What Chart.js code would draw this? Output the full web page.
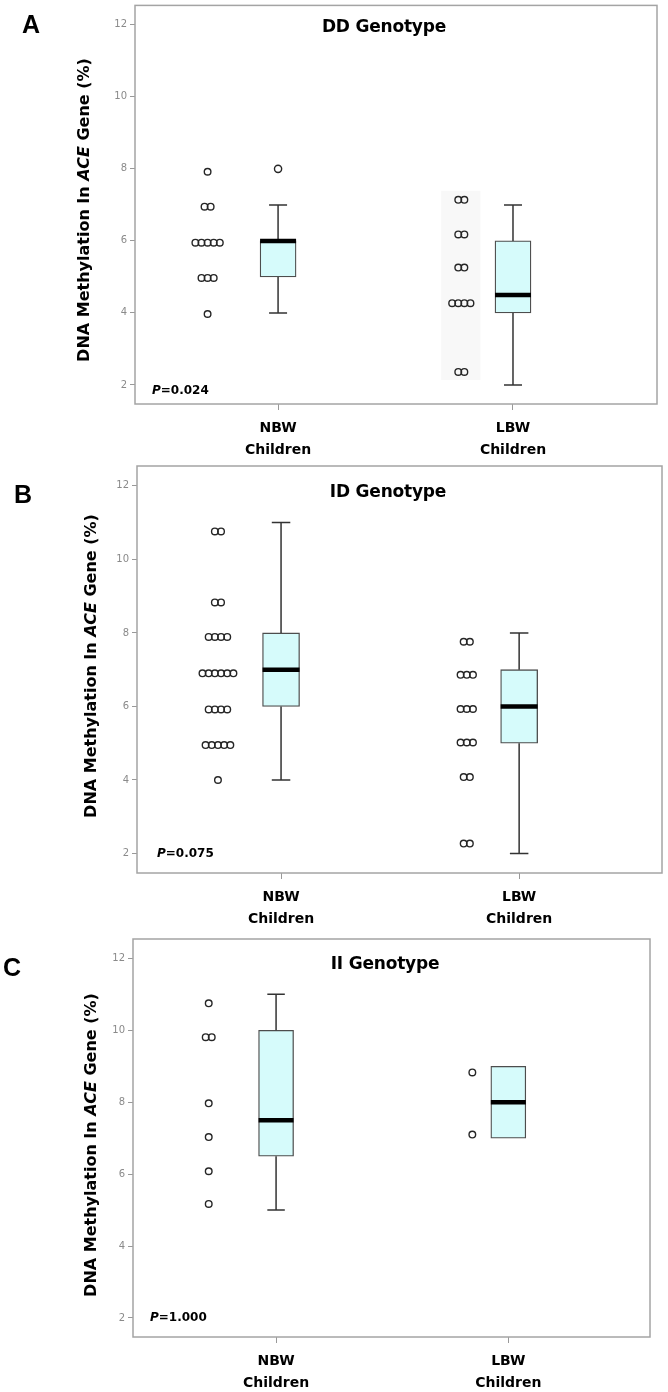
<!DOCTYPE html>
<html><head><meta charset="utf-8">
<script src="https://cdn.jsdelivr.net/npm/chart.js@4/dist/chart.umd.min.js"></script>
<style>
html,body{margin:0;padding:0;background:#fff;}
body{width:668px;height:1392px;position:relative;overflow:hidden;font-family:"DejaVu Sans",sans-serif;}
canvas{position:absolute;left:0;display:block;}
.lbl{position:absolute;font-weight:bold;color:#000;white-space:nowrap;line-height:1;}
.letter{font-family:"Liberation Sans",Arial,sans-serif;font-size:25px;}
.ytitle{font-size:16px;transform:translate(-50%,-50%) rotate(-90deg);}
.gt{font-size:17px;transform:translate(-50%,-50%);letter-spacing:-0.2px;}
.pv{font-size:12px;transform:translateY(-50%);}
</style></head><body>
<canvas id="cA" width="668" height="470" style="top:0px"></canvas>
<canvas id="cB" width="668" height="475" style="top:460px"></canvas>
<canvas id="cC" width="668" height="472" style="top:920px"></canvas>

<div class="lbl letter" style="left:22px;top:12px">A</div>
<div class="lbl letter" style="left:14px;top:482px">B</div>
<div class="lbl letter" style="left:3px;top:955px">C</div>

<div class="lbl ytitle" style="left:84px;top:210px">DNA Methylation In <i>ACE</i> Gene (%)</div>
<div class="lbl ytitle" style="left:91px;top:666px">DNA Methylation In <i>ACE</i> Gene (%)</div>
<div class="lbl ytitle" style="left:91px;top:1145px">DNA Methylation In <i>ACE</i> Gene (%)</div>

<div class="lbl gt" style="left:384px;top:26px">DD Genotype</div>
<div class="lbl gt" style="left:388px;top:491px">ID Genotype</div>
<div class="lbl gt" style="left:385px;top:963px">II Genotype</div>

<div class="lbl pv" style="left:152px;top:390px"><i>P</i>=0.024</div>
<div class="lbl pv" style="left:157px;top:853px"><i>P</i>=0.075</div>
<div class="lbl pv" style="left:150px;top:1317px"><i>P</i>=1.000</div>

<script>
// ---------- data ----------
const categories = [['NBW', 'Children'], ['LBW', 'Children']];
const yTicks = [2, 4, 6, 8, 10, 12];

// Panel A: DD genotype (NBW, LBW)
const ddMin = [4, 2];
const ddQ1 = [5, 4];
const ddMedian = [6, 4.5];
const ddQ3 = [6, 6];
const ddMax = [7, 7];
const ddOutliersNBW = [8];
const ddOutliersLBW = [];
const ddDotsNBW = [7.92, 6.95, 6.95, 5.95, 5.95, 5.95, 5.95, 5.95, 4.97, 4.97, 4.97, 3.97];
const ddDotsLBW = [7.14, 7.14, 6.18, 6.18, 5.26, 5.26, 4.27, 4.27, 4.27, 4.27, 2.36, 2.36];

// Panel B: ID genotype
const idMin = [4, 2];
const idQ1 = [6, 5];
const idMedian = [7, 6];
const idQ3 = [8, 7];
const idMax = [11, 8];
const idDotsNBW = [10.76, 10.76, 8.83, 8.83, 7.89, 7.89, 7.89, 7.89, 6.9, 6.9, 6.9, 6.9, 6.9, 6.9,
                   5.92, 5.92, 5.92, 5.92, 4.95, 4.95, 4.95, 4.95, 4.95, 4.0];
const idDotsLBW = [7.76, 7.76, 6.86, 6.86, 6.86, 5.93, 5.93, 5.93, 5.02, 5.02, 5.02, 4.08, 4.08, 2.27, 2.27];

// Panel C: II genotype
const iiMin = [5, 7];
const iiQ1 = [6.5, 7];
const iiMedian = [7.5, 8];
const iiQ3 = [10, 9];
const iiMax = [11, 9];
const iiDotsNBW = [10.75, 9.81, 9.81, 7.97, 7.03, 6.08, 5.17];
const iiDotsLBW = [8.83, 7.1];

// ---------- styling / layout ----------
const BOX_FILL = '#d6fbfb';
const FRAME = '#a4a4a4';
const FONT = '"DejaVu Sans", sans-serif';
const DOT_STEP = 0.026;

function stripPoints(values, center) {
  const groups = {};
  values.forEach(v => { (groups[v] = groups[v] || []).push(v); });
  const pts = [];
  Object.keys(groups).forEach(k => {
    const g = groups[k]; const n = g.length;
    g.forEach((v, i) => pts.push({ x: center + (i - (n - 1) / 2) * DOT_STEP, y: v }));
  });
  return pts;
}

function makePanel(id, d, lay) {
  const dots = stripPoints(d.dotsNBW, 1 + lay.off[0]).concat(stripPoints(d.dotsLBW, 2 + lay.off[1]));
  const outl = [];
  d.outNBW.forEach(v => outl.push({ x: 1, y: v }));
  d.outLBW.forEach(v => outl.push({ x: 2, y: v }));

  const boxPlugin = {
    id: 'boxwhisk_' + id,
    beforeDatasetsDraw(chart) {
      if (!lay.stripBg) return;
      const { ctx, scales: { x, y } } = chart;
      const xs = stripPoints(d.dotsLBW, 2 + lay.off[1]);
      const x0 = x.getPixelForValue(Math.min(...xs.map(p => p.x))) - 11;
      const x1 = x.getPixelForValue(Math.max(...xs.map(p => p.x))) + 10;
      const y0 = y.getPixelForValue(Math.max(...d.dotsLBW)) - 9;
      const y1 = y.getPixelForValue(Math.min(...d.dotsLBW)) + 8;
      ctx.save(); ctx.fillStyle = '#f8f8f8'; ctx.fillRect(x0, y0, x1 - x0, y1 - y0); ctx.restore();
    },
    afterDatasetsDraw(chart) {
      const { ctx, scales: { x, y } } = chart;
      const bars = chart.getDatasetMeta(0).data;
      ctx.save();
      for (let i = 0; i < d.q1.length; i++) {
        const cx = x.getPixelForValue(i + 1);
        const half = bars[i].width / 2;
        ctx.strokeStyle = '#333'; ctx.lineWidth = 1.5; ctx.lineCap = 'butt';
        ctx.beginPath();
        if (d.max[i] > d.q3[i]) {
          ctx.moveTo(cx, y.getPixelForValue(d.q3[i])); ctx.lineTo(cx, y.getPixelForValue(d.max[i]));
          ctx.moveTo(cx - half / 2, y.getPixelForValue(d.max[i])); ctx.lineTo(cx + half / 2, y.getPixelForValue(d.max[i]));
        }
        if (d.min[i] < d.q1[i]) {
          ctx.moveTo(cx, y.getPixelForValue(d.q1[i])); ctx.lineTo(cx, y.getPixelForValue(d.min[i]));
          ctx.moveTo(cx - half / 2, y.getPixelForValue(d.min[i])); ctx.lineTo(cx + half / 2, y.getPixelForValue(d.min[i]));
        }
        ctx.stroke();
        ctx.strokeStyle = '#000'; ctx.lineWidth = 4.5;
        ctx.beginPath();
        ctx.moveTo(cx - half, y.getPixelForValue(d.med[i])); ctx.lineTo(cx + half, y.getPixelForValue(d.med[i]));
        ctx.stroke();
      }
      ctx.restore();
    },
    afterDraw(chart) {
      const { ctx, chartArea: a } = chart;
      ctx.save(); ctx.strokeStyle = FRAME; ctx.lineWidth = 1.5;
      ctx.strokeRect(a.left, a.top, a.right - a.left, a.bottom - a.top);
      ctx.restore();
    }
  };

  return new Chart(document.getElementById(id), {
    type: 'scatter',
    data: {
      datasets: [
        { type: 'bar', data: d.q1.map((q, i) => ({ x: i + 1, y: [q, d.q3[i]] })),
          backgroundColor: BOX_FILL, borderColor: '#4d4d4d', borderWidth: 1.3, borderSkipped: false,
          barThickness: lay.bw, order: 3 },
        { type: 'scatter', data: dots, pointRadius: 3.3, pointHoverRadius: 3.3, borderColor: '#262626',
          borderWidth: 1.4, backgroundColor: 'rgba(0,0,0,0)', order: 1 },
        { type: 'scatter', data: outl, pointRadius: 3.6, borderColor: '#262626',
          borderWidth: 1.4, backgroundColor: 'rgba(0,0,0,0)', order: 1 }
      ]
    },
    options: {
      responsive: false, animation: false, devicePixelRatio: 1,
      layout: { padding: { left: 0, right: lay.pr, top: lay.pt, bottom: 0 } },
      plugins: { legend: { display: false }, tooltip: { enabled: false }, title: { display: false } },
      scales: {
        x: {
          type: 'linear', min: lay.xmin, max: lay.xmax, offset: false,
          afterBuildTicks: s => { s.ticks = categories.map((c, i) => ({ value: i + 1 })); },
          ticks: { callback: v => categories[Math.round(v) - 1], autoSkip: false, maxRotation: 0,
                   font: { family: FONT, size: 14, weight: 'bold', lineHeight: 1.55 }, color: '#000', padding: 8 },
          grid: { drawOnChartArea: false, drawTicks: true, tickLength: 6, color: '#999', offset: false },
          border: { display: false },
          afterFit: s => { s.height = lay.xh; s.paddingLeft = 0; s.paddingRight = 0; }
        },
        y: {
          type: 'linear', min: 1.47, max: 12.54,
          afterBuildTicks: s => { s.ticks = yTicks.map(v => ({ value: v })); },
          ticks: { font: { family: FONT, size: 10 }, color: '#8a8a8a', padding: 3 },
          grid: { drawOnChartArea: false, drawTicks: true, tickLength: 5, color: '#999' },
          border: { display: false },
          afterFit: s => { s.width = lay.yw; s.paddingTop = 0; s.paddingBottom = 0; }
        }
      }
    },
    plugins: [boxPlugin]
  });
}

makePanel('cA',
  { min: ddMin, q1: ddQ1, med: ddMedian, q3: ddQ3, max: ddMax, outNBW: ddOutliersNBW, outLBW: ddOutliersLBW,
    dotsNBW: ddDotsNBW, dotsLBW: ddDotsLBW },
  { xmin: 0.391, xmax: 2.613, yw: 135, xh: 66, pr: 11, pt: 3, bw: 36, off: [-0.30, -0.22], stripBg: true });

makePanel('cB',
  { min: idMin, q1: idQ1, med: idMedian, q3: idQ3, max: idMax, outNBW: [], outLBW: [],
    dotsNBW: idDotsNBW, dotsLBW: idDotsLBW },
  { xmin: 0.395, xmax: 2.60, yw: 137, xh: 62, pr: 6, pt: 6, bw: 37, off: [-0.265, -0.22], stripBg: false });

makePanel('cC',
  { min: iiMin, q1: iiQ1, med: iiMedian, q3: iiQ3, max: iiMax, outNBW: [], outLBW: [],
    dotsNBW: iiDotsNBW, dotsLBW: iiDotsLBW },
  { xmin: 0.384, xmax: 2.61, yw: 133, xh: 55, pr: 18, pt: 19, bw: 35, off: [-0.29, -0.155], stripBg: false });
</script>
</body></html>
